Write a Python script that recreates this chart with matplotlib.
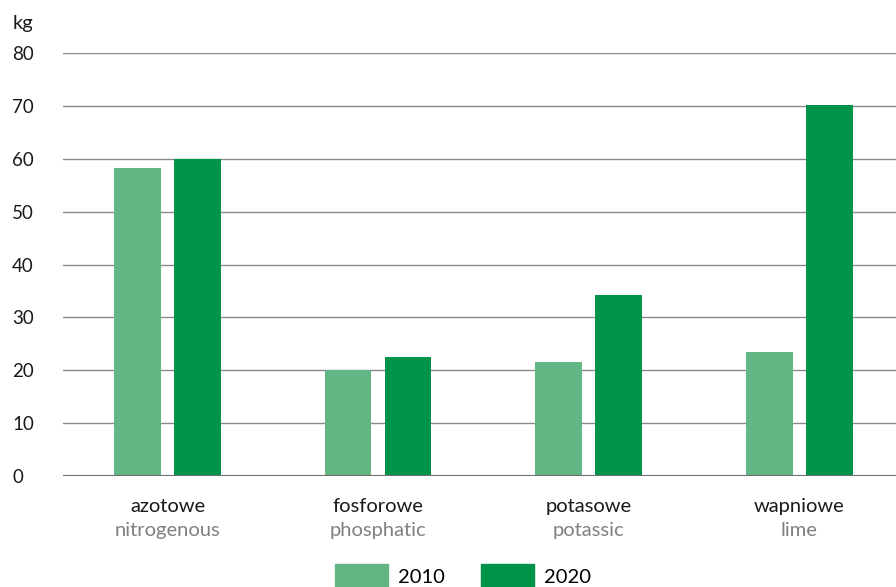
import matplotlib.pyplot as plt
from matplotlib.patches import Patch
import numpy as np

categories_pl = ['azotowe', 'fosforowe', 'potasowe', 'wapniowe']
categories_en = ['nitrogenous', 'phosphatic', 'potassic', 'lime']
values_2010 = [58.3, 20.1, 21.6, 23.4]
values_2020 = [60.0, 22.5, 34.2, 70.2]
yticks = [0, 10, 20, 30, 40, 50, 60, 70, 80]

light = '#63b584'
dark = '#00934a'

plt.rcParams['font.family'] = ['Lato', 'DejaVu Sans']
plt.rcParams['font.size'] = 13

fig = plt.figure(figsize=(8.96, 5.87), dpi=100)
ax = fig.add_axes([63 / 896, 111 / 587, 833 / 896, 423 / 587])

x = np.arange(len(categories_pl))
ax.bar(x - 0.1425, values_2010, width=0.223, color=light, zorder=3)
ax.bar(x + 0.1425, values_2020, width=0.223, color=dark, zorder=3)

ax.set_xlim(-0.496, 3.46)
ax.set_ylim(0, 80)
ax.set_yticks(yticks)
ax.set_yticklabels([str(t) for t in yticks], ha='left')
ax.tick_params(axis='y', length=0, pad=36.7, labelcolor='#1a1a1a', labelsize=13.5)
ax.set_xticks([])
ax.grid(axis='y', color='#8a8a8a', linewidth=1, zorder=0)
for s in ax.spines.values():
    s.set_visible(False)
ax.axhline(0, color='#6e6e6e', linewidth=1.5, zorder=4)

ax.text(-0.496 - 50 / 210.5, 1.07, 'kg', transform=ax.get_xaxis_transform(),
        ha='left', va='center', color='#1a1a1a', fontsize=14.5)

for i in range(len(categories_pl)):
    ax.text(x[i], -0.073, categories_pl[i], transform=ax.get_xaxis_transform(),
            ha='center', va='center', color='#1a1a1a', fontsize=14.5)
    ax.text(x[i], -0.128, categories_en[i], transform=ax.get_xaxis_transform(),
            ha='center', va='center', color='#808080', fontsize=14.5)

handles = [Patch(color=light, label='2010'), Patch(color=dark, label='2020')]
fig.legend(handles=handles, loc='center', bbox_to_anchor=(463 / 896, 11 / 587),
           ncol=2, frameon=False, fontsize=14.5, handlelength=2.65, handleheight=1.4,
           handletextpad=0.5, columnspacing=1.75, borderaxespad=0, borderpad=0)

fig.savefig('out.png', dpi=100)
